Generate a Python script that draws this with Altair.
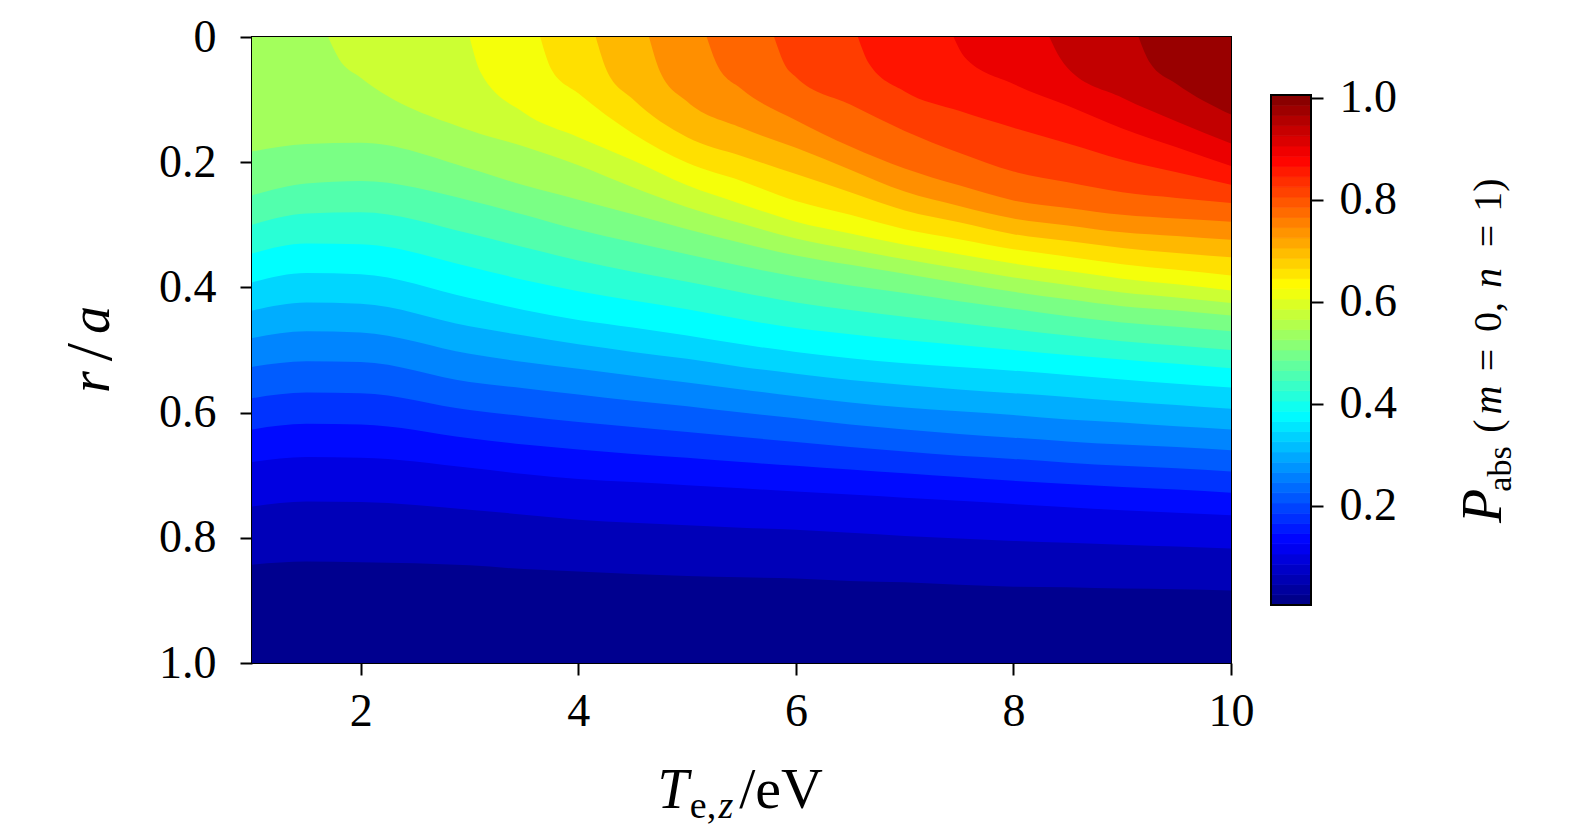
import altair as alt
import numpy as np
import pandas as pd

# ---------------- data ----------------
# Filled contours of P_abs: for each level, the r/a where P_abs crosses that level,
# sampled along T_e,z (upper levels start where they leave the axis r/a = 0).
T_SAMPLES = [1.0, 1.5, 2.0, 3.0, 3.5, 4.0, 4.5, 5.0, 5.5, 6.0, 6.5, 7.0, 7.5, 8.0, 8.5, 9.0, 9.5, 10.0]
LEVELS = [0.04, 0.08, 0.12, 0.16, 0.20, 0.24, 0.28, 0.32, 0.36, 0.40, 0.44, 0.48,
          0.52, 0.56, 0.60, 0.64, 0.68, 0.72, 0.76, 0.80, 0.84, 0.88, 0.92, 0.96]
ISO_T = [T_SAMPLES] * 13 + [
    [1.70, 1.80, 2.0, 3.0, 3.5, 4.0, 4.5, 5.0, 5.5, 6.0, 6.5, 7.0, 7.5, 8.0, 8.5, 9.0, 9.5, 10.0],
    [3.00, 3.10, 3.5, 4.0, 4.5, 5.0, 5.5, 6.0, 6.5, 7.0, 7.5, 8.0, 8.5, 9.0, 9.5, 10.0],
    [3.65, 3.75, 4.0, 4.5, 5.0, 5.5, 6.0, 6.5, 7.0, 7.5, 8.0, 8.5, 9.0, 9.5, 10.0],
    [4.16, 4.26, 4.5, 5.0, 5.5, 6.0, 6.5, 7.0, 7.5, 8.0, 8.5, 9.0, 9.5, 10.0],
    [4.65, 4.75, 5.0, 5.5, 6.0, 6.5, 7.0, 7.5, 8.0, 8.5, 9.0, 9.5, 10.0],
    [5.18, 5.28, 5.5, 6.0, 6.5, 7.0, 7.5, 8.0, 8.5, 9.0, 9.5, 10.0],
    [5.80, 5.90, 6.0, 6.5, 7.0, 7.5, 8.0, 8.5, 9.0, 9.5, 10.0],
    [6.57, 6.67, 7.0, 7.5, 8.0, 8.5, 9.0, 9.5, 10.0],
    [7.45, 7.55, 8.0, 8.5, 9.0, 9.5, 10.0],
    [8.33, 8.43, 8.5, 9.0, 9.5, 10.0],
    [9.15, 9.25, 9.5, 10.0],
]
ISO_R = [
    [0.843, 0.838, 0.839, 0.844, 0.850, 0.854, 0.858, 0.861, 0.863, 0.865, 0.869, 0.871, 0.875, 0.878, 0.879, 0.881, 0.882, 0.884],
    [0.750, 0.742, 0.743, 0.755, 0.763, 0.771, 0.776, 0.780, 0.784, 0.787, 0.792, 0.797, 0.801, 0.805, 0.808, 0.811, 0.814, 0.817],
    [0.679, 0.671, 0.672, 0.688, 0.698, 0.706, 0.711, 0.716, 0.721, 0.726, 0.731, 0.736, 0.741, 0.746, 0.751, 0.756, 0.760, 0.764],
    [0.627, 0.618, 0.619, 0.641, 0.651, 0.659, 0.666, 0.672, 0.679, 0.685, 0.691, 0.697, 0.703, 0.709, 0.714, 0.719, 0.723, 0.728],
    [0.577, 0.568, 0.569, 0.596, 0.606, 0.615, 0.623, 0.631, 0.639, 0.647, 0.655, 0.662, 0.669, 0.674, 0.680, 0.685, 0.689, 0.694],
    [0.527, 0.518, 0.519, 0.551, 0.561, 0.571, 0.581, 0.590, 0.600, 0.609, 0.619, 0.627, 0.634, 0.640, 0.646, 0.651, 0.655, 0.660],
    [0.481, 0.470, 0.472, 0.506, 0.519, 0.530, 0.541, 0.552, 0.563, 0.574, 0.584, 0.592, 0.598, 0.604, 0.611, 0.616, 0.622, 0.627],
    [0.437, 0.424, 0.426, 0.462, 0.477, 0.491, 0.503, 0.514, 0.527, 0.538, 0.548, 0.556, 0.563, 0.569, 0.575, 0.582, 0.588, 0.594],
    [0.392, 0.377, 0.379, 0.417, 0.436, 0.452, 0.464, 0.477, 0.491, 0.503, 0.513, 0.521, 0.527, 0.533, 0.540, 0.547, 0.554, 0.560],
    [0.346, 0.330, 0.331, 0.367, 0.388, 0.406, 0.421, 0.435, 0.451, 0.465, 0.475, 0.484, 0.492, 0.500, 0.508, 0.515, 0.522, 0.529],
    [0.300, 0.282, 0.280, 0.314, 0.336, 0.357, 0.375, 0.391, 0.408, 0.424, 0.436, 0.447, 0.457, 0.467, 0.477, 0.486, 0.493, 0.500],
    [0.253, 0.234, 0.230, 0.261, 0.284, 0.308, 0.328, 0.347, 0.366, 0.383, 0.397, 0.409, 0.422, 0.434, 0.446, 0.456, 0.463, 0.470],
    [0.183, 0.171, 0.169, 0.210, 0.237, 0.260, 0.283, 0.307, 0.329, 0.349, 0.364, 0.378, 0.393, 0.407, 0.419, 0.430, 0.437, 0.445],
    [0.0, 0.035, 0.065, 0.149, 0.175, 0.205, 0.240, 0.272, 0.298, 0.322, 0.339, 0.355, 0.370, 0.384, 0.396, 0.408, 0.416, 0.425],
    [0.0, 0.056, 0.121, 0.160, 0.197, 0.237, 0.267, 0.295, 0.314, 0.332, 0.347, 0.362, 0.374, 0.386, 0.395, 0.405],
    [0.0, 0.051, 0.090, 0.154, 0.201, 0.230, 0.262, 0.284, 0.307, 0.323, 0.339, 0.351, 0.363, 0.372, 0.381],
    [0.0, 0.053, 0.099, 0.160, 0.190, 0.219, 0.248, 0.277, 0.296, 0.315, 0.326, 0.337, 0.345, 0.352],
    [0.0, 0.055, 0.103, 0.145, 0.177, 0.212, 0.247, 0.270, 0.290, 0.301, 0.312, 0.318, 0.324],
    [0.0, 0.046, 0.083, 0.133, 0.175, 0.210, 0.237, 0.261, 0.273, 0.284, 0.290, 0.295],
    [0.0, 0.045, 0.064, 0.108, 0.150, 0.185, 0.215, 0.232, 0.248, 0.257, 0.265],
    [0.0, 0.042, 0.087, 0.118, 0.145, 0.170, 0.196, 0.216, 0.236],
    [0.0, 0.032, 0.075, 0.110, 0.146, 0.176, 0.206],
    [0.0, 0.034, 0.050, 0.097, 0.135, 0.170],
    [0.0, 0.040, 0.075, 0.124],
]
LEVEL_STEP = 0.04

X_TICKS = [2, 4, 6, 8, 10]
Y_TICKS = [0, 0.2, 0.4, 0.6, 0.8, 1.0]
CB_TICKS = [0.2, 0.4, 0.6, 0.8, 1.0]
P_MIN, P_MAX = 0.005, 1.005
N_CB_BANDS = 50

# ---------------- jet colour map ----------------
JET_N = [0.0, 0.125, 0.375, 0.625, 0.875, 1.0]
JET_COLORS = ["#000080", "#0000ff", "#00ffff", "#ffff00", "#ff0000", "#800000"]
jet_domain = [P_MIN + n * (P_MAX - P_MIN) for n in JET_N]

def cscale():
    return alt.Scale(domain=jet_domain, range=JET_COLORS, interpolate="rgb", clamp=True)

FONT = "Liberation Serif"
LBL = 46
W, H = 979, 626
CBW = 40

X_ENC = alt.X("T:Q", scale=alt.Scale(domain=[1, 10], nice=False, zero=False),
              axis=alt.Axis(values=X_TICKS, format="d", title=None, grid=False, domain=False,
                            labelFont=FONT, labelFontSize=LBL, labelColor="black",
                            tickColor="black", tickWidth=2, tickSize=12, labelPadding=14,
                            labelFlush=False, labelOverlap=False))
Y_ENC = alt.Y("r:Q", stack=None,
              scale=alt.Scale(domain=[0, 1], reverse=True, nice=False, zero=False),
              axis=alt.Axis(values=Y_TICKS, labelExpr="datum.value == 0 ? '0' : format(datum.value, '.1f')",
                            title=None, grid=False, domain=False,
                            labelFont=FONT, labelFontSize=LBL, labelColor="black",
                            tickColor="black", tickWidth=2, tickSize=12, labelPadding=24,
                            labelOverlap=False))
C_ENC = alt.Color("mid:Q", scale=cscale(), legend=None)

def fill_layer(Ts, rs, mid):
    d = pd.DataFrame({"T": Ts, "r": rs, "mid": [mid] * len(Ts)})
    return alt.Chart(d).mark_area(interpolate="monotone").encode(
        x=X_ENC, y=Y_ENC, y2=alt.value(0), color=C_ENC)

# lowest band covers the whole plot, each higher band is painted over it
contour_layers = [fill_layer([1.0, 10.0], [1.0, 1.0], LEVEL_STEP / 2)]
for L, Ts, rs in zip(LEVELS, ISO_T, ISO_R):
    contour_layers.append(fill_layer(Ts, rs, L + LEVEL_STEP / 2))

one = pd.DataFrame({"a": [0]})
def txt(text, x, y, size, style="normal", angle=0, align="center"):
    kw = dict(text=text, font=FONT, fontSize=size, fontStyle=style, align=align,
              baseline="alphabetic", color="black")
    if angle:
        kw["angle"] = angle
    return alt.Chart(one).mark_text(**kw).encode(x=alt.value(x), y=alt.value(y))

main_titles = [
    # r/a (rotated)
    txt("r", -143, 345, 56, "italic", 270),
    txt("/", -141, 315, 66, "normal", 270),
    txt("a", -143, 283, 56, "italic", 270),
    # T_{e,z}/eV
    txt("T", 421, 771, 56, "italic"),
    txt("e,", 451, 781, 38, "normal"),
    txt("z", 474, 781, 38, "italic"),
    txt("/eV", 529, 771, 58, "normal"),
]
main = alt.layer(*contour_layers, *main_titles).properties(width=W, height=H)

# ---------------- colour bar ----------------
edges = np.linspace(P_MIN, P_MAX, N_CB_BANDS + 1)
cb = pd.DataFrame({"lo": edges[:-1], "hi": edges[1:], "mid": (edges[:-1] + edges[1:]) / 2})
cb_frame = pd.DataFrame({"lo": [P_MIN], "hi": [P_MAX]})

PX_PER_UNIT = 510.0 / (P_MAX - P_MIN)
cb_y = alt.Scale(domain=[P_MIN - 58 / PX_PER_UNIT, P_MAX + 58 / PX_PER_UNIT], nice=False, zero=False)
bands = alt.Chart(cb).mark_rect(strokeWidth=0.8).encode(
    x=alt.value(0), x2=alt.value(CBW),
    y=alt.Y("lo:Q", scale=cb_y,
            axis=alt.Axis(orient="right", values=CB_TICKS, format=".1f", title=None, grid=False,
                          domain=False, labelFont=FONT, labelFontSize=LBL, labelColor="black",
                          tickColor="black", tickWidth=2, tickSize=12, labelPadding=16,
                          labelOverlap=False)),
    y2="hi:Q",
    color=alt.Color("mid:Q", scale=cscale(), legend=None),
    stroke=alt.Stroke("mid:Q", scale=cscale(), legend=None),
)
frame = alt.Chart(cb_frame).mark_rect(fillOpacity=0, stroke="black", strokeWidth=2).encode(
    x=alt.value(0), x2=alt.value(CBW), y=alt.Y("lo:Q", scale=cb_y), y2="hi:Q")

cb_titles = [
    txt("P", 230, 469, 56, "italic", 270),
    txt("abs", 240, 432, 34, "normal", 270),
    txt("(", 230, 389, 40, "normal", 270),
    txt("m", 230, 363, 40, "italic", 270),
    txt("=", 230, 323, 40, "normal", 270),
    txt("0,", 230, 280, 40, "normal", 270),
    txt("n", 230, 241, 40, "italic", 270),
    txt("=", 230, 199, 40, "normal", 270),
    txt("1)", 230, 158, 40, "normal", 270),
]
colorbar = alt.layer(bands, frame, *cb_titles).properties(
    width=CBW, height=H, view=alt.ViewBackground(stroke=None))

chart = alt.hconcat(main, colorbar, spacing=40, bounds="flush").resolve_scale(
    x="independent", y="independent", color="independent", stroke="independent"
).properties(
    padding={"left": 49, "top": 5, "right": 5, "bottom": 5},
    background="white",
).configure_view(stroke="black", strokeWidth=2)

chart.save("out.html", embed_options={"renderer": "svg", "actions": False})
